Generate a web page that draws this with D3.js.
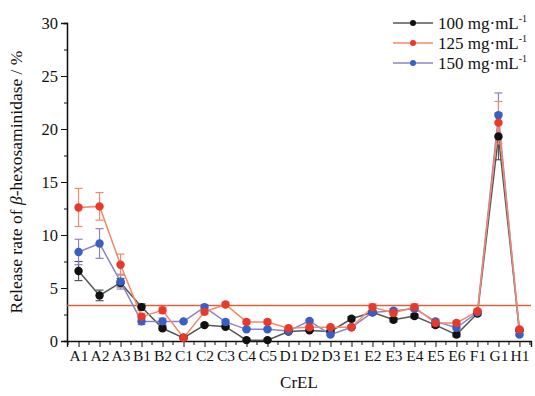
<!DOCTYPE html>
<html>
<head>
<meta charset="utf-8">
<script src="https://cdn.jsdelivr.net/npm/d3@7"></script>
<style>
  body { margin: 0; background: #fff; }
  svg text { font-family: "Liberation Serif", "DejaVu Serif", serif; fill: #111; }
</style>
</head>
<body>
<div id="chart"></div>
<script>
// categories on the x axis
var cats = ["A1", "A2", "A3", "B1", "B2", "C1", "C2", "C3", "C4", "C5", "D1",
  "D2", "D3", "E1", "E2", "E3", "E4", "E5", "E6", "F1", "G1", "H1"];

// release rate (%) per concentration
var v100 = [6.6, 4.3, 5.5, 3.2, 1.2, 0.3, 1.5, 1.35, 0.08, 0.08, 0.9, 1.0, 0.9, 2.1, 2.7, 2.0, 2.35, 1.5, 0.6, 2.6, 19.3, 1.0];
var v125 = [12.6, 12.7, 7.2, 2.3, 2.9, 0.3, 2.75, 3.45, 1.8, 1.8, 1.2, 1.3, 1.3, 1.3, 3.2, 2.65, 3.2, 1.7, 1.7, 2.8, 20.6, 1.1];
var v150 = [8.4, 9.2, 5.6, 1.85, 1.85, 1.85, 3.2, 1.8, 1.1, 1.1, 0.95, 1.9, 0.6, 1.3, 2.7, 2.85, 3.05, 1.85, 1.25, 2.7, 21.3, 0.6];

// error bars (+/-)
var e100 = [0.9, 0.5, 0.4, 0.3, 0.2, 0.1, 0.1, 0.1, 0.1, 0.1, 0.1, 0.1, 0.1, 0.2, 0.2, 0.2, 0.2, 0.2, 0.2, 0.2, 2.2, 0.1];
var e125 = [1.8, 1.3, 1.0, 0.3, 0.3, 0.1, 0.2, 0.2, 0.2, 0.2, 0.1, 0.1, 0.1, 0.1, 0.3, 0.2, 0.3, 0.2, 0.2, 0.2, 2.0, 0.1];
var e150 = [1.2, 1.4, 0.7, 0.3, 0.3, 0.1, 0.2, 0.2, 0.1, 0.1, 0.1, 0.1, 0.1, 0.1, 0.2, 0.2, 0.2, 0.2, 0.2, 0.2, 2.1, 0.1];

var seriesNames = ["100 mg·mL", "125 mg·mL", "150 mg·mL"];
var refLine = 3.35;
var yTicks = [0, 5, 10, 15, 20, 25, 30];

var svgWidth = 535;
var svgHeight = 396;
var margin = { top: 23, right: 4, bottom: 55, left: 67 };
var width = svgWidth - margin.left - margin.right;
var height = svgHeight - margin.top - margin.bottom;

var svg = d3.select("#chart")
  .append("svg")
  .attr("width", svgWidth)
  .attr("height", svgHeight);

var chartGroup = svg.append("g")
  .attr("transform", `translate(${margin.left}, ${margin.top})`);

var x = d3.scalePoint().domain(cats).range([0, width]).padding(0.55);
var y = d3.scaleLinear().domain([0, 30]).range([height, 0]);

// y axis with minor ticks
var yMinor = chartGroup.append("g")
  .call(d3.axisLeft(y).tickValues(d3.range(2.5, 30, 5)).tickSize(3).tickFormat(""));
var yAxis = chartGroup.append("g")
  .call(d3.axisLeft(y).tickValues(yTicks).tickSize(6).tickPadding(3));
yAxis.selectAll("text").style("font-size", "16.5px");

// x axis: ticks at categories plus minor ticks between
var step = x.step();
var minorX = cats.slice(0, -1).map(function(c) { return x(c) + step / 2; });
minorX.unshift(x(cats[0]) - step / 2);
minorX.push(x(cats[cats.length - 1]) + step / 2);
var xMinor = chartGroup.append("g")
  .attr("transform", `translate(0, ${height})`);
xMinor.selectAll("line").data(minorX).enter().append("line")
  .attr("x1", d => d).attr("x2", d => d)
  .attr("y1", 0).attr("y2", 4)
  .attr("stroke", "#111");
var xAxis = chartGroup.append("g")
  .attr("transform", `translate(0, ${height})`)
  .call(d3.axisBottom(x).tickSize(6).tickPadding(3));
xAxis.selectAll("text").style("font-size", "15.5px");
svg.selectAll(".domain").attr("stroke", "#111").attr("stroke-width", 1.3);
svg.selectAll(".tick line").attr("stroke", "#111");

// reference line
chartGroup.append("line")
  .attr("x1", 0).attr("x2", width)
  .attr("y1", y(refLine)).attr("y2", y(refLine))
  .attr("stroke", "#e2603a").attr("stroke-width", 1.6);

var series = [
  { vals: v100, errs: e100, dot: "#111111", line: "#555555" },
  { vals: v150, errs: e150, dot: "#3a5fc4", line: "#8a84c4" },
  { vals: v125, errs: e125, dot: "#e8392b", line: "#f08a6c" }
];

var lineGen = d3.line()
  .x(d => x(d.c))
  .y(d => y(d.v));

series.forEach(function(s) {
  var pts = cats.map(function(c, i) { return { c: c, v: s.vals[i], e: s.errs[i] }; });
  chartGroup.append("path")
    .datum(pts)
    .attr("d", lineGen)
    .attr("fill", "none")
    .attr("stroke", s.line)
    .attr("stroke-width", 1.5);

  var eb = chartGroup.append("g");
  eb.selectAll("line.v").data(pts).enter().append("line")
    .attr("x1", d => x(d.c)).attr("x2", d => x(d.c))
    .attr("y1", d => y(d.v - d.e)).attr("y2", d => y(d.v + d.e))
    .attr("stroke", s.line).attr("stroke-width", 1.2);
  [-1, 1].forEach(function(sign) {
    eb.selectAll("line.cap" + sign).data(pts).enter().append("line")
      .attr("x1", d => x(d.c) - 4).attr("x2", d => x(d.c) + 4)
      .attr("y1", d => y(d.v + sign * d.e)).attr("y2", d => y(d.v + sign * d.e))
      .attr("stroke", s.line).attr("stroke-width", 1.2);
  });
});

series.forEach(function(s) {
  chartGroup.append("g").selectAll("circle")
    .data(s.vals)
    .enter()
    .append("circle")
    .attr("cx", (d, i) => x(cats[i]))
    .attr("cy", d => y(d))
    .attr("r", 4.2)
    .attr("fill", s.dot);
});

// legend
var legendItems = [
  { name: seriesNames[0], dot: "#111111", line: "#555555" },
  { name: seriesNames[1], dot: "#e8392b", line: "#f08a6c" },
  { name: seriesNames[2], dot: "#3a5fc4", line: "#8a84c4" }
];
var legend = svg.append("g").attr("transform", "translate(393, 23)");
legendItems.forEach(function(it, i) {
  var g = legend.append("g").attr("transform", `translate(0, ${i * 20})`);
  g.append("line").attr("x1", 0).attr("x2", 40).attr("y1", 0).attr("y2", 0)
    .attr("stroke", it.line).attr("stroke-width", 1.5);
  g.append("circle").attr("cx", 20).attr("cy", 0).attr("r", 3).attr("fill", it.dot);
  var t = g.append("text").attr("x", 45).attr("y", 5.5).style("font-size", "17px");
  t.append("tspan").text(it.name);
  t.append("tspan").attr("dy", -7).style("font-size", "10px").text("-1");
});

// axis titles
svg.append("text")
  .attr("x", margin.left + width / 2)
  .attr("y", 388)
  .attr("text-anchor", "middle")
  .style("font-size", "17px")
  .text("CrEL");

var yTitle = svg.append("text")
  .attr("transform", `translate(22, ${margin.top + height / 2}) rotate(-90)`)
  .attr("text-anchor", "middle")
  .style("font-size", "17.5px");
yTitle.append("tspan").text("Release rate of ");
yTitle.append("tspan").style("font-style", "italic").text("β");
yTitle.append("tspan").text("-hexosaminidase / %");
</script>
</body>
</html>
